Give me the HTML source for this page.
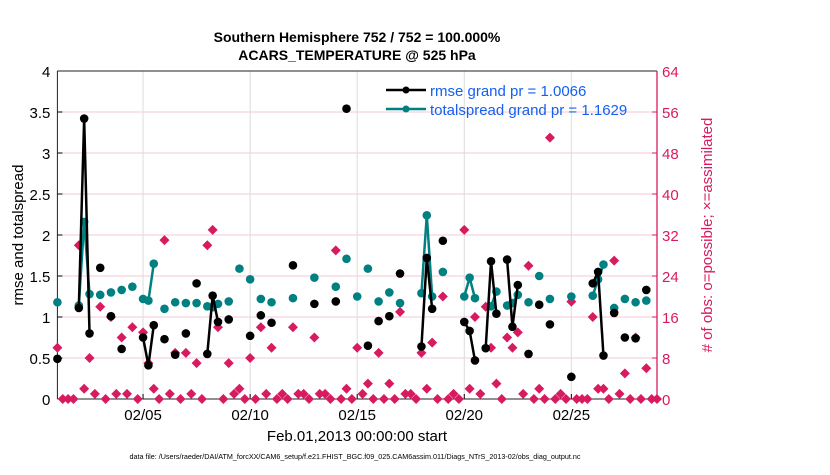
<!DOCTYPE html>
<html><head><meta charset="utf-8"><style>
body{margin:0;background:#fff;width:830px;height:470px;overflow:hidden;font-family:"Liberation Sans",sans-serif}
</style></head><body>
<svg id="chart" width="830" height="470" xmlns="http://www.w3.org/2000/svg" font-family="Liberation Sans, sans-serif">
<text x="357" y="42" text-anchor="middle" font-size="14" font-weight="bold">Southern Hemisphere 752 / 752 = 100.000%</text>
<text x="357" y="60" text-anchor="middle" font-size="14" font-weight="bold">ACARS_TEMPERATURE @ 525 hPa</text>
<g id="grid"></g><g id="axes"></g><g id="marks"></g>
<text transform="translate(23,235) rotate(-90)" text-anchor="middle" font-size="15">rmse and totalspread</text>
<text transform="translate(712,235) rotate(-90)" text-anchor="middle" font-size="15" fill="#d81b60"># of obs: o=possible; ×=assimilated</text>
<text x="357" y="441" text-anchor="middle" font-size="15">Feb.01,2013 00:00:00 start</text>
<text x="355" y="459" text-anchor="middle" font-size="7.2">data file: /Users/raeder/DAI/ATM_forcXX/CAM6_setup/f.e21.FHIST_BGC.f09_025.CAM6assim.011/Diags_NTrS_2013-02/obs_diag_output.nc</text>
<g id="legend">
<line x1="386" y1="90" x2="426" y2="90" stroke="#000" stroke-width="2.5"/><circle cx="406" cy="90" r="3.5" fill="#000"/>
<text x="430" y="96" font-size="15" fill="#1560f0">rmse grand pr = 1.0066</text>
<line x1="386" y1="109" x2="426" y2="109" stroke="#008080" stroke-width="2.5"/><circle cx="406" cy="109" r="3.5" fill="#008080"/>
<text x="430" y="115" font-size="15" fill="#1560f0">totalspread grand pr = 1.1629</text>
</g>
</svg>
<script>
const N = 113;
function series(pairs){const a=new Array(N).fill(null);for(const [t,v] of pairs)a[t]=v;return a;}
const rmse = series([[0,0.49],[4,1.11],[5,3.42],[6,0.80],[8,1.60],[10,1.01],[12,0.61],[16,0.75],[17,0.41],[18,0.90],[20,0.73],[22,0.54],[24,0.80],[26,1.41],[28,0.55],[29,1.26],[30,0.94],[32,0.97],[36,0.77],[38,1.02],[40,0.93],[44,1.63],[48,1.16],[52,1.19],[54,3.54],[58,0.65],[60,0.95],[62,1.01],[64,1.53],[68,0.64],[69,1.72],[70,1.10],[72,1.93],[76,0.94],[77,0.83],[78,0.47],[80,0.62],[81,1.68],[82,1.04],[84,1.70],[85,0.88],[86,1.39],[88,0.55],[90,1.15],[92,0.91],[96,0.27],[100,1.41],[101,1.55],[102,0.53],[104,1.05],[106,0.75],[108,0.74],[110,1.33]]);
const spread = series([[0,1.18],[4,1.14],[5,2.16],[6,1.28],[8,1.27],[10,1.30],[12,1.33],[14,1.37],[16,1.22],[17,1.20],[18,1.65],[20,1.10],[22,1.18],[24,1.17],[26,1.17],[28,1.13],[29,1.12],[30,1.16],[32,1.19],[34,1.59],[36,1.46],[38,1.22],[40,1.18],[44,1.23],[48,1.48],[52,1.37],[54,1.71],[56,1.25],[58,1.59],[60,1.19],[62,1.30],[64,1.17],[68,1.29],[69,2.24],[70,1.25],[72,1.55],[76,1.25],[77,1.48],[78,1.23],[81,1.13],[82,1.31],[84,1.14],[85,1.17],[86,1.27],[88,1.18],[90,1.50],[92,1.22],[96,1.25],[100,1.26],[101,1.46],[102,1.64],[104,1.11],[106,1.22],[108,1.18],[110,1.20]]);
const nobs = series([[0,10],[1,0],[2,0],[3,0],[4,30],[5,2],[6,8],[7,1],[8,18],[9,0],[10,16],[11,1],[12,12],[13,1],[14,14],[15,0],[16,13],[17,7],[18,2],[19,0],[20,31],[21,1],[22,9],[23,0],[24,9],[25,1],[26,7],[27,0],[28,30],[29,33],[30,14],[31,0],[32,7],[33,1],[34,2],[35,0],[36,8],[37,0],[38,14],[39,1],[40,10],[41,0],[42,1],[43,0],[44,14],[45,1],[46,1],[47,0],[48,12],[49,1],[50,1],[51,0],[52,29],[53,0],[54,2],[55,0],[56,10],[57,1],[58,3],[59,0],[60,9],[61,0],[62,3],[63,0],[64,17],[65,1],[66,1],[67,0],[68,9],[69,2],[70,11],[71,0],[72,20],[73,0],[74,1],[75,0],[76,33],[77,2],[78,16],[79,1],[80,18],[81,10],[82,3],[83,0],[84,12],[85,10],[86,13],[87,1],[88,26],[89,0],[90,2],[91,0],[92,51],[93,0],[94,1],[95,0],[96,19],[97,0],[98,0],[99,0],[100,16],[101,2],[102,2],[103,0],[104,27],[105,1],[106,5],[107,0],[108,12],[109,0],[110,6],[111,0],[112,0]]);
const yTicks = ["0","0.5","1","1.5","2","2.5","3","3.5","4"];
const y2Ticks = ["0","8","16","24","32","40","48","56","64"];
const xTickDays = [4,9,14,19,24];
const xTickLabels = ["02/05","02/10","02/15","02/20","02/25"];

const X0=57.4,X1=657,Y0=399,Y1=71;
const xs=t=>X0+(t/4)*(X1-X0)/28;
const xd=d=>X0+d*(X1-X0)/28;
const ys=v=>Y0-v*(Y0-Y1)/4;
const y2=v=>Y0-v*(Y0-Y1)/64;
const NS="http://www.w3.org/2000/svg";
function mk(tag,attrs,parent){const e=document.createElementNS(NS,tag);for(const k in attrs)e.setAttribute(k,attrs[k]);parent.appendChild(e);return e;}
const grid=document.getElementById('grid'),axes=document.getElementById('axes'),marks=document.getElementById('marks');
yTicks.forEach((l,i)=>{const y=ys(+l);
 if(i>0&&i<8){const g=mk('line',{x1:X0,x2:X1,y1:y,y2:y,stroke:'#f3c9d8','stroke-width':1},grid);
 
 }
 const t=mk('text',{x:X0-7,y:y+6,'text-anchor':'end','font-size':15},axes);t.textContent=l;
 
 
 mk('line',{x1:X0,x2:X0+5,y1:y,y2:y,stroke:'#000'},axes);
});
y2Ticks.forEach(l=>{const y=y2(+l);
 const t=mk('text',{x:X1+5,y:y+6,'font-size':15,fill:'#d81b60'},axes);t.textContent=l;
 
 
 mk('line',{x1:X1-5,x2:X1,y1:y,y2:y,stroke:'#d81b60'},axes);
});
xTickDays.forEach((d,i)=>{const x=xd(d);
 const g=mk('line',{x1:x,x2:x,y1:Y1,y2:Y0,stroke:'#dcdcdc'},grid);
 
 
 mk('line',{x1:x,x2:x,y1:Y0,y2:Y0-5,stroke:'#000'},axes);
 const t=mk('text',{x:x,y:Y0+21,'text-anchor':'middle','font-size':15},axes);t.textContent=xTickLabels[i];
 
 
});
mk('line',{x1:X0,x2:X1,y1:Y1,y2:Y1,stroke:'#222'},axes);
mk('line',{x1:X0,x2:X1,y1:Y0,y2:Y0,stroke:'#222'},axes);
mk('line',{x1:X0,x2:X0,y1:Y1,y2:Y0,stroke:'#222'},axes);
mk('line',{x1:X1,x2:X1,y1:Y1,y2:Y0,stroke:'#d81b60','stroke-width':1.3},axes);

function drawLine(arr,color,name){
 for(let t=0;t<N-1;t++){if(arr[t]!=null&&arr[t+1]!=null){
  const l=mk('line',{x1:xs(t),y1:ys(arr[t]),x2:xs(t+1),y2:ys(arr[t+1]),stroke:color,'stroke-width':2.5},marks);
  
  }}
 arr.forEach((v,t)=>{if(v==null)return;
  const c=mk('circle',{cx:xs(t),cy:ys(v),r:4.3,fill:color},marks);
  
  });
}
nobs.forEach((v,t)=>{if(v==null)return;const x=xs(t),y=y2(v),s=5;
 const p=mk('polygon',{points:`${x},${y-s} ${x+s},${y} ${x},${y+s} ${x-s},${y}`,fill:'#d81b60'},marks);
 
 });
drawLine(spread,'#008080','totalspread');
drawLine(rmse,'#000','rmse');
</script>
</body></html>
